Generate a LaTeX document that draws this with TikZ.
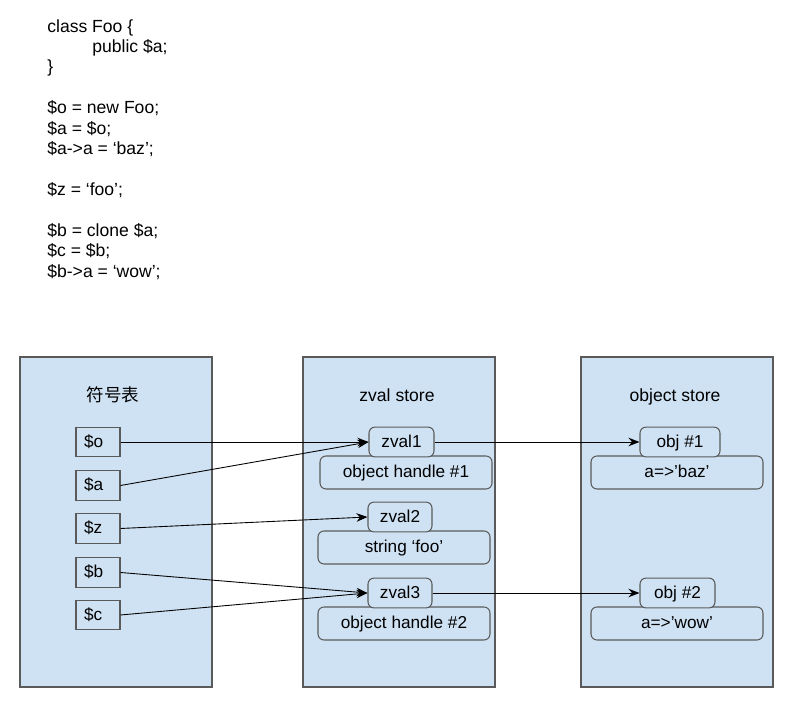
\documentclass[tikz,border=0pt]{standalone}
\usepackage{fontspec}
\setmainfont{Liberation Sans}
\newfontfamily\cjk{Noto Sans CJK SC}
\usetikzlibrary{arrows.meta}
\definecolor{panelblue}{HTML}{CFE2F3}
\definecolor{edgegray}{HTML}{5A5A5A}
\begin{document}
\begin{tikzpicture}[x=0.02cm, y=-0.02cm,
    panel/.style={fill=panelblue, draw=edgegray, line width=0.6pt},
    title/.style={anchor=base, font=\fontsize{10}{12}\selectfont},
    var/.style={draw=edgegray, fill=panelblue, line width=0.6pt, text width=0.56cm, inner xsep=0.16cm, minimum height=0.58cm, text height=1.55ex, text depth=0.4ex, font=\fontsize{9.8}{12}\selectfont},
    small/.style={draw=edgegray, fill=panelblue, line width=0.6pt, rounded corners=1.2mm, minimum height=0.56cm, text height=1.55ex, text depth=0.4ex, font=\fontsize{9.8}{12}\selectfont},
    big/.style={draw=edgegray, fill=panelblue, line width=0.6pt, rounded corners=1.2mm, minimum width=3.44cm, minimum height=0.66cm, text height=1.55ex, text depth=0.4ex, font=\fontsize{9.8}{12}\selectfont},
    ptr/.style={-{Stealth[length=2.2mm,width=1.7mm]}, line width=0.5pt}]
  \useasboundingbox (0,0) rectangle (792,705);

  % the php code
  \node (code) at (47,19) [anchor=north west, inner sep=0pt, align=left,
    font=\fontsize{10}{11.62}\selectfont]{class Foo \{\\
    \hspace*{0.9cm}public \$a;\\
    \}\\
    \mbox{}\\
    \$o = new Foo;\\
    \$a = \$o;\\
    \$a->a = ‘baz’;\\
    \mbox{}\\
    \$z = ‘foo’;\\
    \mbox{}\\
    \$b = clone \$a;\\
    \$c = \$b;\\
    \$b->a = ‘wow’;};

  % the three stores
  \draw[panel] (20,357) rectangle (212,687);
  \draw[panel] (303,357) rectangle (495,687);
  \draw[panel] (581,357) rectangle (773,687);
  \node (symtitle) at (113,402) [title]{\cjk 符号表};
  \node (zvaltitle) at (397,402) [title]{zval store};
  \node (objtitle) at (675,402) [title]{object store};

  % symbol table
  \node (so) at (98,442) [var]{\$o};
  \node (sa) at (98,485.5) [var]{\$a};
  \node (sz) at (98,528.5) [var]{\$z};
  \node (sb) at (98,572.5) [var]{\$b};
  \node (sc) at (98,615) [var]{\$c};

  % zval store
  \node (oh1) at (406,472.5) [big]{object handle \#1};
  \node (zv1) at (401.5,442) [small, minimum width=1.3cm]{zval1};
  \node (sfoo) at (404,547.5) [big]{string ‘foo’};
  \node (zv2) at (400,517) [small, minimum width=1.28cm]{zval2};
  \node (oh2) at (404,623.5) [big]{object handle \#2};
  \node (zv3) at (400,593) [small, minimum width=1.28cm]{zval3};

  % object store
  \node (baz) at (677,472.5) [big]{a=>’baz’};
  \node (ob1) at (680,442) [small, minimum width=1.6cm]{obj \#1};
  \node (wow) at (677,623.5) [big]{a=>’wow’};
  \node (ob2) at (677.5,593) [small, minimum width=1.5cm]{obj \#2};

  \draw[ptr] (so.east) -- (zv1.west);
  \draw[ptr] (sa.east) -- (zv1.west);
  \draw[ptr] (sz.east) -- (zv2.west);
  \draw[ptr] (sb.east) -- (zv3.west);
  \draw[ptr] (sc.east) -- (zv3.west);
  \draw[ptr] (zv1.east) -- (ob1.west);
  \draw[ptr] (zv3.east) -- (ob2.west);
\end{tikzpicture}
\end{document}
